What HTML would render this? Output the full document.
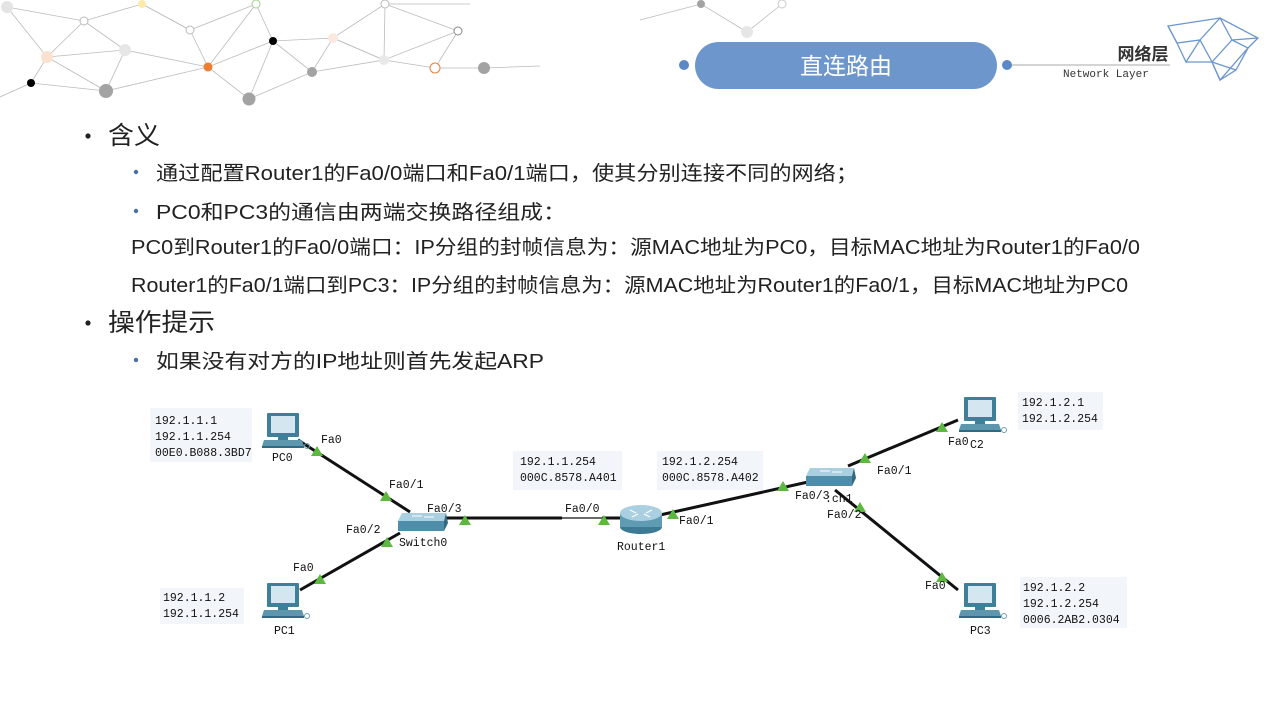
<!DOCTYPE html>
<html><head><meta charset="utf-8">
<style>
html,body{margin:0;padding:0;background:#fff;}
svg{display:block;}
.cn{font-family:"Liberation Sans Narrow","Liberation Sans","Noto Sans CJK SC",sans-serif;fill:#222;}
.m{font-family:"Liberation Mono","Noto Sans CJK SC",monospace;font-size:11.5px;fill:#111;}
</style></head><body>
<svg width="1280" height="720" viewBox="0 0 1280 720" xmlns="http://www.w3.org/2000/svg">
<defs>
<g id="pc">
  <rect x="-16" y="-18" width="32" height="24" rx="1" fill="#3f7f99"/>
  <rect x="-12" y="-15" width="24" height="17" fill="#d4e7f0"/>
  <rect x="-5" y="6" width="10" height="3" fill="#3f7f99"/>
  <polygon points="-19,9 19,9 21,15 -21,15" fill="#5d97ae"/>
  <rect x="-21" y="15" width="42" height="2" fill="#2f6a82"/>
  <circle cx="24" cy="15" r="2.5" fill="none" stroke="#6a9cb0" stroke-width="1"/>
</g>
<g id="sw">
  <polygon points="-18,-8 26,-8 24,0 -22,0" fill="#a9cfe0"/>
  <polygon points="-22,0 24,0 24,10 -22,10" fill="#4e8eaa"/>
  <polygon points="24,0 26,-8 28,2 24,10" fill="#2f6a82"/>
  <path d="M-8,-5 h10 M4,-4 h10" stroke="#fff" stroke-width="1"/>
</g>
<g id="tri"><polygon points="0,-6 6,4 -6,4" fill="#5cb83f"/></g>
</defs>

<!-- background network -->
<g stroke="#bbb" stroke-width="0.8" fill="none">
<polyline points="7,7 84,21 142,4 190,30 256,4 273,41 333,38 385,4 470,4"/>
<polyline points="7,7 47,57 31,83 0,97"/>
<polyline points="84,21 47,57 125,50 84,21"/>
<polyline points="47,57 106,91 125,50 208,67 273,41 312,72 333,38 384,60 385,4"/>
<polyline points="142,4 190,30 208,67 256,4"/>
<polyline points="31,83 106,91 208,67 249,99 273,41"/>
<polyline points="249,99 312,72 384,60 435,68 484,68 540,66"/>
<polyline points="333,38 384,60 458,31 385,4"/>
<polyline points="458,31 435,68 M458,31 484,68 M458,31 540,15 M458,31 540,48"/>
<polyline points="640,20 701,4 747,32 782,4 M701,4 684,65 M747,32 720,40 M640,55 684,65 M640,66 684,65"/>
</g>
<g>
<circle cx="7" cy="7" r="6" fill="#e4e4e4"/>
<circle cx="84" cy="21" r="4" fill="#fff" stroke="#bbb"/>
<circle cx="142" cy="4" r="4" fill="#fbeaa9"/>
<circle cx="190" cy="30" r="4" fill="#fff" stroke="#bbb"/>
<circle cx="256" cy="4" r="4" fill="#fff" stroke="#a6cf8c"/>
<circle cx="47" cy="57" r="6" fill="#fbe1cf"/>
<circle cx="125" cy="50" r="6" fill="#e6e6e6"/>
<circle cx="273" cy="41" r="4" fill="#000"/>
<circle cx="333" cy="38" r="5" fill="#fbe9e0"/>
<circle cx="385" cy="4" r="4" fill="#fff" stroke="#bbb"/>
<circle cx="458" cy="31" r="4" fill="#fff" stroke="#888"/>
<circle cx="31" cy="83" r="4" fill="#000"/>
<circle cx="106" cy="91" r="7" fill="#a3a3a3"/>
<circle cx="208" cy="67" r="4.5" fill="#ec7f33"/>
<circle cx="249" cy="99" r="6.5" fill="#a3a3a3"/>
<circle cx="312" cy="72" r="5" fill="#a3a3a3"/>
<circle cx="384" cy="60" r="5" fill="#e9e9e9"/>
<circle cx="435" cy="68" r="5" fill="#fff" stroke="#ec7f33"/>
<circle cx="484" cy="68" r="6" fill="#a3a3a3"/>
<circle cx="701" cy="4" r="4" fill="#a3a3a3"/>
<circle cx="782" cy="4" r="4" fill="#fff" stroke="#ccc"/>
<circle cx="747" cy="32" r="6" fill="#e6e6e6"/>
</g>

<!-- header -->
<line x1="1007" y1="65" x2="1170" y2="65" stroke="#aaa" stroke-width="1"/>
<rect x="695" y="42" width="302" height="47" rx="23.5" fill="#6d97cc"/>
<circle cx="684" cy="65" r="5" fill="#5b89c6"/>
<circle cx="1007" cy="65" r="5" fill="#5b89c6"/>
<text x="846" y="74" text-anchor="middle" font-family="'Noto Sans CJK SC',sans-serif" font-size="23" fill="#fff">直连路由</text>
<text x="1143" y="60" text-anchor="middle" font-family="'Noto Sans CJK SC',sans-serif" font-weight="bold" font-size="17" fill="#333">网络层</text>
<text x="1063" y="77" font-family="'Liberation Mono',monospace" font-size="11" fill="#333">Network Layer</text>
<g stroke="#6b96cc" stroke-width="1.3" fill="none">
<polygon points="1168,26 1220,18 1258,38 1248,48 1220,80 1212,62 1200,40 1177,43"/>
<polyline points="1168,26 1177,43 1186,62 1200,40 1220,18 1232,40 1248,48 1236,70 1220,80 1212,62 1232,40 1258,38"/>
<polyline points="1186,62 1212,62 1236,70 M1177,43 1190,33 1220,18 M1200,40 1232,40"/>
</g>

<!-- text -->
<circle cx="88" cy="136" r="2.6" fill="#222"/>
<text class="cn" x="108" y="144" font-size="25" textLength="52" lengthAdjust="spacingAndGlyphs">含义</text>
<circle cx="136" cy="172" r="2.2" fill="#4a6fa5"/>
<text class="cn" x="156" y="180" font-size="20" textLength="702" lengthAdjust="spacingAndGlyphs">通过配置Router1的Fa0/0端口和Fa0/1端口，使其分别连接不同的网络；</text>
<circle cx="136" cy="211" r="2.2" fill="#4a6fa5"/>
<text class="cn" x="156" y="219" font-size="20" textLength="410" lengthAdjust="spacingAndGlyphs">PC0和PC3的通信由两端交换路径组成：</text>
<text class="cn" x="131" y="254" font-size="20" textLength="1009" lengthAdjust="spacingAndGlyphs">PC0到Router1的Fa0/0端口：IP分组的封帧信息为：源MAC地址为PC0，目标MAC地址为Router1的Fa0/0</text>
<text class="cn" x="131" y="292" font-size="20" textLength="997" lengthAdjust="spacingAndGlyphs">Router1的Fa0/1端口到PC3：IP分组的封帧信息为：源MAC地址为Router1的Fa0/1，目标MAC地址为PC0</text>
<circle cx="88" cy="323" r="2.6" fill="#222"/>
<text class="cn" x="108" y="331" font-size="25" textLength="107" lengthAdjust="spacingAndGlyphs">操作提示</text>
<circle cx="136" cy="360" r="2.2" fill="#4a6fa5"/>
<text class="cn" x="156" y="368" font-size="20" textLength="388" lengthAdjust="spacingAndGlyphs">如果没有对方的IP地址则首先发起ARP</text>

<!-- info boxes -->
<g fill="#f2f5fa">
<rect x="150" y="408" width="102" height="54"/>
<rect x="160" y="588" width="84" height="36"/>
<rect x="513" y="451" width="109" height="39"/>
<rect x="657" y="451" width="106" height="39"/>
<rect x="1018" y="392" width="85" height="38"/>
<rect x="1020" y="577" width="107" height="51"/>
</g>
<g class="m">
<text x="155" y="424">192.1.1.1</text>
<text x="155" y="440">192.1.1.254</text>
<text x="155" y="456">00E0.B088.3BD7</text>
<text x="163" y="601">192.1.1.2</text>
<text x="163" y="617">192.1.1.254</text>
<text x="520" y="465">192.1.1.254</text>
<text x="520" y="481">000C.8578.A401</text>
<text x="662" y="465">192.1.2.254</text>
<text x="662" y="481">000C.8578.A402</text>
<text x="1022" y="406">192.1.2.1</text>
<text x="1022" y="422">192.1.2.254</text>
<text x="1023" y="591">192.1.2.2</text>
<text x="1023" y="607">192.1.2.254</text>
<text x="1023" y="623">0006.2AB2.0304</text>
</g>

<!-- links -->
<g stroke="#111" stroke-width="3">
<line x1="298" y1="440" x2="410" y2="512"/>
<line x1="300" y1="590" x2="400" y2="533"/>
<line x1="445" y1="518" x2="622" y2="518"/>
<line x1="660" y1="515" x2="808" y2="482"/>
<line x1="848" y1="466" x2="958" y2="420"/>
<line x1="835" y1="490" x2="958" y2="590"/>
</g>
<rect x="562" y="516" width="40" height="4" fill="#fff"/>
<line x1="562" y1="518" x2="602" y2="518" stroke="#111" stroke-width="1.2"/>

<!-- devices -->
<use href="#pc" x="283" y="431"/>
<use href="#pc" x="283" y="601"/>
<use href="#pc" x="980" y="415"/>
<use href="#pc" x="980" y="601"/>
<use href="#sw" x="420" y="521"/>
<use href="#sw" x="828" y="476"/>
<g>
<ellipse cx="641" cy="527" rx="21" ry="7" fill="#3d7b94"/>
<rect x="620" y="513" width="42" height="14" fill="#5f9bb3"/>
<ellipse cx="641" cy="513" rx="21" ry="8" fill="#a9cfe0"/>
<path d="M630,510 l6,3 M652,510 l-6,3 M632,517 l6,-3 M650,517 l-6,-3" stroke="#fff" stroke-width="1.2"/>
</g>

<!-- triangles -->
<use href="#tri" x="317" y="452"/>
<use href="#tri" x="386" y="497"/>
<use href="#tri" x="387" y="543"/>
<use href="#tri" x="320" y="580"/>
<use href="#tri" x="465" y="521"/>
<use href="#tri" x="604" y="521"/>
<use href="#tri" x="673" y="515"/>
<use href="#tri" x="783" y="487"/>
<use href="#tri" x="865" y="459"/>
<use href="#tri" x="860" y="508"/>
<use href="#tri" x="942" y="428"/>
<use href="#tri" x="942" y="578"/>

<!-- port / device labels -->
<g class="m">
<text x="321" y="443">Fa0</text>
<text x="389" y="488">Fa0/1</text>
<text x="427" y="512">Fa0/3</text>
<text x="346" y="533">Fa0/2</text>
<text x="399" y="546">Switch0</text>
<text x="293" y="571">Fa0</text>
<text x="272" y="461">PC0</text>
<text x="274" y="634">PC1</text>
<text x="565" y="512">Fa0/0</text>
<text x="617" y="550">Router1</text>
<text x="679" y="524">Fa0/1</text>
<text x="795" y="499">Fa0/3</text>
<text x="825" y="502">:ch1</text>
<text x="827" y="518">Fa0/2</text>
<text x="877" y="474">Fa0/1</text>
<text x="948" y="445">Fa0</text>
<text x="970" y="448">C2</text>
<text x="925" y="589">Fa0</text>
<text x="970" y="634">PC3</text>
</g>
</svg>
</body></html>
